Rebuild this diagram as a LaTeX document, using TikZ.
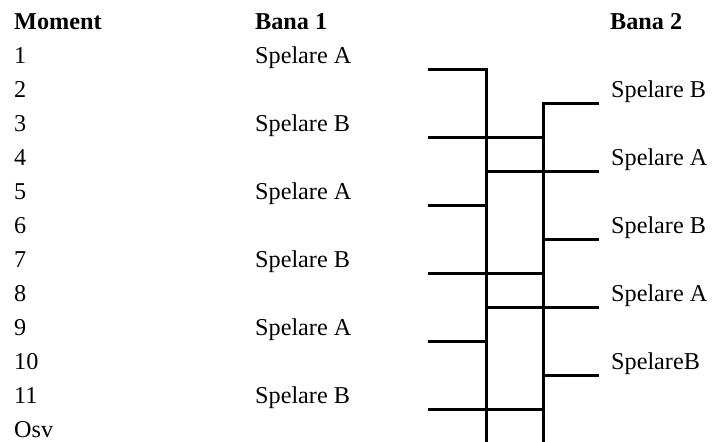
\documentclass[tikz,border=0pt]{standalone}
\usepackage{fontspec}
\setmainfont{Liberation Serif}
\begin{document}
\begin{tikzpicture}[x=1pt, y=-1pt,
		txt/.style={anchor=base west, inner sep=0pt, font=\fontsize{24.2}{29}\selectfont},
		head/.style={txt, font=\fontsize{24.2}{29}\selectfont\bfseries},
		lane/.style={line width=3pt}
		]
	\useasboundingbox (0,0) rectangle (716,442);
	% headings
	\node [head] (moment) at (14,29.3) {Moment};
	\node [head] (bana1) at (255,29.3) {Bana 1};
	\node [head] (bana2) at (610,29.3) {Bana 2};
	% moments
	\foreach \i in {1,...,11}
		\node [txt] (m\i) at (14,29.3+34*\i) {\i};
	\node [txt] (osv) at (14,29.3+34*12) {Osv};
	% bana 1
	\foreach \i/\p in {1/A,3/B,5/A,7/B,9/A,11/B}
		\node [txt] (s\i) at (255,29.3+34*\i) {Spelare \p};
	% bana 2
	\foreach \i/\p in {2/B,4/A,6/B,8/A}
		\node [txt] (s\i) at (611,29.3+34*\i) {Spelare \p};
	\node [txt] (s10) at (611,29.3+34*10) {SpelareB};
	% lanes
	\coordinate (v1top) at (486,69.3);
	\coordinate (v1bot) at (486,442);
	\coordinate (v2top) at (543,103.3);
	\coordinate (v2bot) at (543,442);
	\draw [lane] (428,69.3) -- (v1top) -- (v1bot);
	\draw [lane] (599,103.3) -- (v2top) -- (v2bot);
	\foreach \k in {4,8}
		\draw [lane] (428,69.3+34*\k) -- (486,69.3+34*\k);
	\foreach \k in {2,6,10}
		\draw [lane] (428,69.3+34*\k) -- (543,69.3+34*\k);
	\foreach \k in {3,7}
		\draw [lane] (486,69.3+34*\k) -- (599,69.3+34*\k);
	\foreach \k in {5,9}
		\draw [lane] (543,69.3+34*\k) -- (599,69.3+34*\k);
\end{tikzpicture}
\end{document}
